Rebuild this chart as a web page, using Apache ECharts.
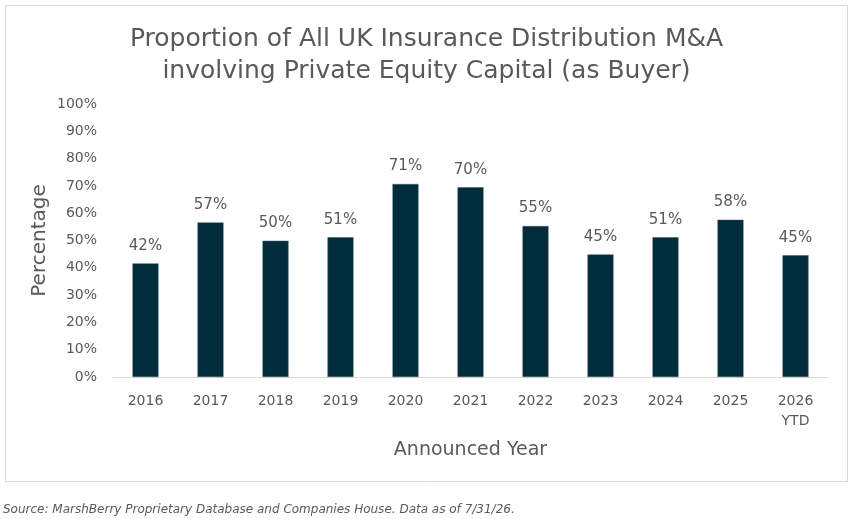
<!DOCTYPE html>
<html>
<head>
<meta charset="utf-8">
<script src="https://cdn.jsdelivr.net/npm/echarts@6/dist/echarts.min.js"></script>
<style>
  html, body { margin: 0; padding: 0; background: #fff; }
  #chart { width: 853px; height: 519px; }
</style>
</head>
<body>
<div id="chart"></div>
<script>
// 数据
var years = ['2016', '2017', '2018', '2019', '2020', '2021', '2022', '2023', '2024', '2025', '2026\nYTD'];
var peShare = [41.6, 56.6, 49.9, 51.2, 70.7, 69.5, 55.3, 44.9, 51.2, 57.6, 44.6];
var yTicks = [0, 10, 20, 30, 40, 50, 60, 70, 80, 90, 100];

var grey = '#595959';
var font = 'DejaVu Sans';

var myChart = echarts.init(document.getElementById('chart'));

var option = {
    animation: false,
    title: {
        text: 'Proportion of All UK Insurance Distribution M&A\ninvolving Private Equity Capital (as Buyer)',
        left: 'center',
        top: 18,
        textStyle: {
            fontFamily: font,
            fontSize: 25,
            fontWeight: 'normal',
            color: grey,
            lineHeight: 32
        }
    },
    grid: { left: 113, right: 25, top: 104, bottom: 142 },
    graphic: [
        {
            type: 'rect',
            shape: { x: 5.5, y: 5.5, width: 842, height: 476 },
            style: { fill: 'none', stroke: '#d9d9d9', lineWidth: 1 },
            z: -1
        },
        {
            type: 'text',
            left: 3,
            top: 504,
            style: {
                text: 'Source: MarshBerry Proprietary Database and Companies House. Data as of 7/31/26.',
                font: 'italic 12px "DejaVu Sans"',
                fill: grey
            }
        }
    ],
    xAxis: {
        type: 'category',
        data: years,
        name: 'Announced Year',
        nameLocation: 'middle',
        nameGap: 64,
        nameTextStyle: { fontFamily: font, fontSize: 19, color: grey },
        axisLine: { lineStyle: { color: '#d9d9d9' } },
        axisTick: { show: false },
        axisLabel: {
            fontFamily: font,
            fontSize: 14,
            color: grey,
            margin: 14,
            lineHeight: 20,
            interval: 0
        }
    },
    yAxis: {
        type: 'value',
        min: yTicks[0],
        max: yTicks[yTicks.length - 1],
        interval: 10,
        name: 'Percentage',
        nameLocation: 'middle',
        nameGap: 63,
        nameMoveOverlap: false,
        nameTextStyle: { fontFamily: font, fontSize: 20, color: grey },
        splitLine: { show: false },
        axisLine: { show: false },
        axisTick: { show: false },
        axisLabel: {
            fontFamily: font,
            fontSize: 14,
            color: grey,
            margin: 16,
            formatter: '{value}%'
        }
    },
    series: [
        {
            type: 'bar',
            data: peShare,
            barWidth: '40%',
            itemStyle: { color: '#022b3b', borderColor: '#3d5c6b', borderWidth: 0.5 },
            label: {
                show: true,
                position: 'top',
                distance: 10,
                fontFamily: font,
                fontSize: 15,
                color: grey,
                formatter: function (p) { return Math.round(p.value) + '%'; }
            }
        }
    ]
};

myChart.setOption(option);
</script>
</body>
</html>
